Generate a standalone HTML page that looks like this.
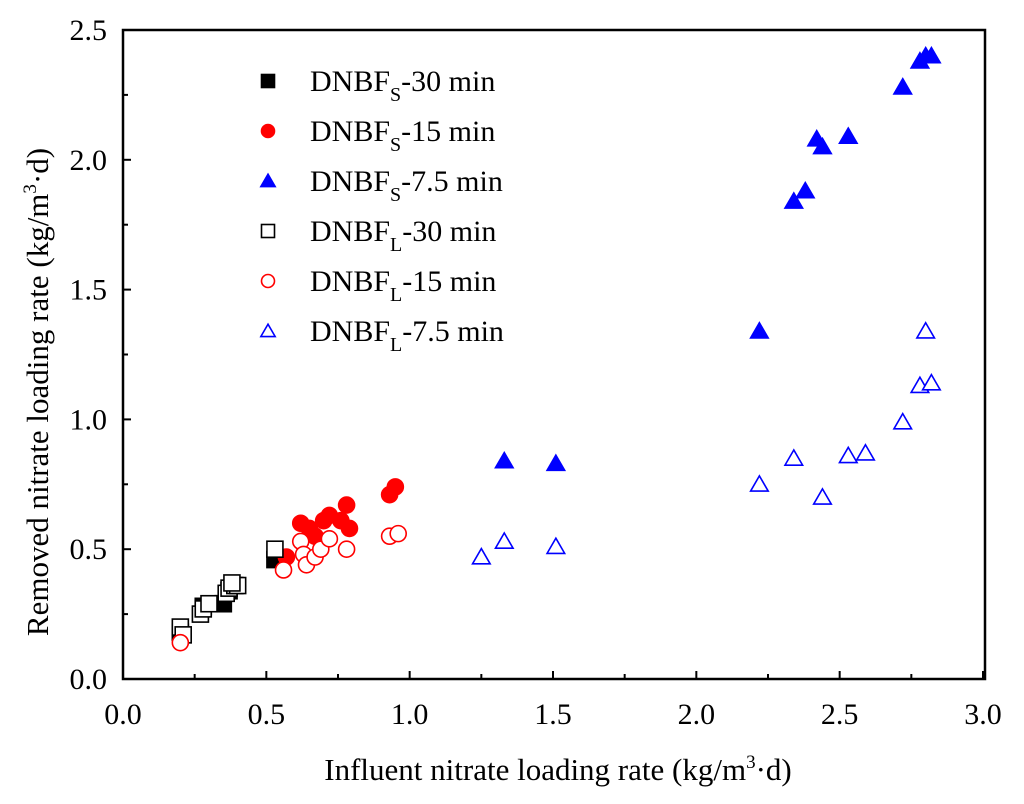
<!DOCTYPE html>
<html><head><meta charset="utf-8"><style>
html,body{margin:0;padding:0;background:#fff;}
svg{display:block;font-family:"Liberation Serif",serif;}
</style></head><body>
<svg id="chart" width="1024" height="804" viewBox="0 0 1024 804">
<g id="axes"></g><g id="marks"></g><g id="legend"></g>
</svg>
<script>
const xTicks=[0,0.5,1.0,1.5,2.0,2.5,3.0];
const yTicks=[0,0.5,1.0,1.5,2.0,2.5];
const s30x=[0.20,0.28,0.35,0.37,0.53];
const s30y=[0.18,0.28,0.29,0.34,0.46];
const s15x=[0.57,0.62,0.65,0.67,0.70,0.72,0.76,0.78,0.79,0.93,0.95];
const s15y=[0.47,0.60,0.58,0.55,0.61,0.63,0.61,0.67,0.58,0.71,0.74];
const s75x=[1.33,1.51,2.22,2.34,2.38,2.42,2.44,2.53,2.72,2.78,2.80,2.82];
const s75y=[0.84,0.83,1.34,1.84,1.88,2.08,2.05,2.09,2.28,2.38,2.40,2.40];
const l30x=[0.20,0.21,0.27,0.28,0.30,0.36,0.37,0.39,0.40,0.38,0.53];
const l30y=[0.20,0.17,0.25,0.27,0.29,0.33,0.35,0.36,0.36,0.37,0.50];
const l15x=[0.20,0.56,0.62,0.63,0.64,0.67,0.69,0.72,0.78,0.93,0.96];
const l15y=[0.14,0.42,0.53,0.48,0.44,0.47,0.50,0.54,0.50,0.55,0.56];
const l75x=[1.25,1.33,1.51,2.22,2.34,2.44,2.53,2.59,2.72,2.78,2.80,2.82];
const l75y=[0.47,0.53,0.51,0.75,0.85,0.70,0.86,0.87,0.99,1.13,1.34,1.14];

const NS="http://www.w3.org/2000/svg";
const X0=123,X1=983,Y0=679,Y1=30;
function sx(v){return X0+(v-0)/(3-0)*(X1-X0);}
function sy(v){return Y0-(v-0)/(2.5-0)*(Y0-Y1);}
function mk(tag,attrs,parent){const e=document.createElementNS(NS,tag);for(const k in attrs)e.setAttribute(k,attrs[k]);parent.appendChild(e);return e;}
const axes=document.getElementById('axes'),marks=document.getElementById('marks'),legend=document.getElementById('legend');

const frame=mk('rect',{x:X0,y:Y1,width:X1-X0+2,height:Y0-Y1,fill:'none',stroke:'#000','stroke-width':2.5},axes);


xTicks.forEach((t,i)=>{
  const x=sx(t);
  const tk=mk('line',{x1:x,y1:Y0,x2:x,y2:Y0-8,stroke:'#000','stroke-width':2},axes);
  
  
  if(i<xTicks.length-1){const m=sx(t+0.25);const mt=mk('line',{x1:m,y1:Y0,x2:m,y2:Y0-5,stroke:'#000','stroke-width':2},axes);
    
    }
  const tx=mk('text',{x:x,y:724,'font-size':30,'text-anchor':'middle'},axes);tx.textContent=t.toFixed(1);
  
  
});
yTicks.forEach((t,i)=>{
  const y=sy(t);
  const tk=mk('line',{x1:X0,y1:y,x2:X0+8,y2:y,stroke:'#000','stroke-width':2},axes);
  
  
  if(i<yTicks.length-1){const m=sy(t+0.25);const mt=mk('line',{x1:X0,y1:m,x2:X0+5,y2:m,stroke:'#000','stroke-width':2},axes);
    
    }
  const tx=mk('text',{x:107,y:y+10,'font-size':30,'text-anchor':'end'},axes);tx.textContent=t.toFixed(1);
  
  
});
const xt=mk('text',{x:558,y:780,'font-size':31,'text-anchor':'middle'},axes);
xt.innerHTML='Influent nitrate loading rate (kg/m<tspan dy="-12" font-size="19">3</tspan><tspan dy="12">·d)</tspan>';


const yt=mk('text',{x:0,y:0,'font-size':31,'text-anchor':'middle',transform:'translate(48,392) rotate(-90)'},axes);
yt.innerHTML='Removed nitrate loading rate (kg/m<tspan dy="-12" font-size="19">3</tspan><tspan dy="12">·d)</tspan>';



function marker(type,filled,color,x,y,size,parent){
  const fill=filled?color:'#fff';const sw=1.6;let e;const h=size/2;
  if(type==='sq') e=mk('rect',{x:x-h,y:y-h,width:size,height:size,fill:fill,stroke:filled?color:'#000','stroke-width':sw},parent);
  else if(type==='ci') e=mk('circle',{cx:x,cy:y,r:h,fill:fill,stroke:color,'stroke-width':sw},parent);
  else e=mk('polygon',{points:`${x},${y-h*1.05} ${x+h*1.1},${y+h*0.85} ${x-h*1.1},${y+h*0.85}`,fill:fill,stroke:color,'stroke-width':sw},parent);
  return e;
}
const series=[
 {name:'s30',xs:s30x,ys:s30y,t:'sq',f:true,c:'#000'},
 {name:'s15',xs:s15x,ys:s15y,t:'ci',f:true,c:'#ff0000'},
 {name:'s75',xs:s75x,ys:s75y,t:'tr',f:true,c:'#0000ff'},
 {name:'l30',xs:l30x,ys:l30y,t:'sq',f:false,c:'#000'},
 {name:'l15',xs:l15x,ys:l15y,t:'ci',f:false,c:'#ff0000'},
 {name:'l75',xs:l75x,ys:l75y,t:'tr',f:false,c:'#0000ff'}];
series.forEach(s=>{s.xs.forEach((v,i)=>{
  const e=marker(s.t,s.f,s.c,sx(v),sy(s.ys[i]),16,marks);
  
  
});});

const leg=[['sq',true,'#000','S','-30 min'],['ci',true,'#ff0000','S','-15 min'],['tr',true,'#0000ff','S','-7.5 min'],
 ['sq',false,'#000','L','-30 min'],['ci',false,'#ff0000','L','-15 min'],['tr',false,'#0000ff','L','-7.5 min']];
leg.forEach((l,i)=>{
  const y=81+i*50;
  const g=mk('g',{},legend);
  
  
  marker(l[0],l[1],l[2],268,y,13,g);
  const t=mk('text',{x:310,y:y+10,'font-size':30},g);
  t.innerHTML='DNBF<tspan dy="10" font-size="20">'+l[3]+'</tspan><tspan dy="-10">'+l[4]+'</tspan>';
});
</script>
</body></html>
